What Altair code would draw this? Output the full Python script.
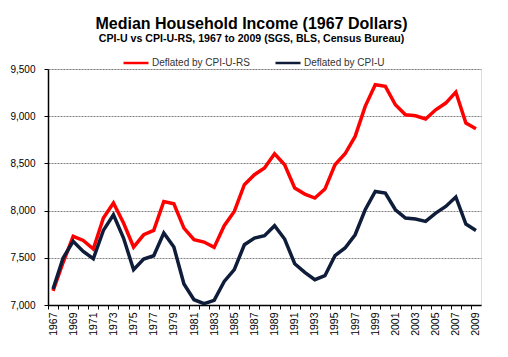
import altair as alt
import pandas as pd

years = list(range(1967, 2010))
cpi_u_rs = [7150, 7450, 7727, 7684, 7593, 7921, 8080, 7868, 7614, 7744, 7790, 8097, 8073, 7815,
            7692, 7667, 7610, 7840, 7991, 8274, 8380, 8451, 8602, 8486, 8239, 8175, 8133, 8228,
            8486, 8602, 8786, 9104, 9333, 9316, 9121, 9015, 9005, 8970, 9068, 9139, 9256, 8927, 8867]
cpi_u = [7170, 7498, 7674, 7568, 7490, 7790, 7956, 7709, 7374, 7487, 7522, 7762, 7614, 7222,
         7056, 7014, 7049, 7250, 7374, 7638, 7709, 7734, 7840, 7699, 7437, 7345, 7268, 7310,
         7522, 7604, 7744, 8009, 8203, 8186, 8009, 7921, 7910, 7885, 7974, 8044, 8144, 7857, 7790]
series_names = ["Deflated by CPI-U-RS", "Deflated by CPI-U"]
series_colors = ["#ff0000", "#0f1d3a"]
y_ticks = [7000, 7500, 8000, 8500, 9000, 9500]

rows = []
for i, name in enumerate(series_names):
    vals = cpi_u_rs if i == 0 else cpi_u
    for yr, v in zip(years, vals):
        rows.append({"year": yr, "value": v, "series": name, "order": i})
df = pd.DataFrame(rows)

FONT = "Liberation Sans"
W, H = 433, 236
step = W / 43.0

chart = alt.Chart(df).mark_line(strokeWidth=3.5, strokeJoin="miter").encode(
    x=alt.X("year:Q",
            scale=alt.Scale(domain=[1966.5, 2009.5], nice=False, zero=False),
            axis=alt.Axis(values=years + [2010], format="d",
                          labelExpr="datum.value % 2 == 1 && datum.value < 2010 ? datum.label : ''",
                          labelAngle=-90, labelOverlap=False, labelFontSize=10.5, labelFont=FONT,
                          labelColor="#000000", labelPadding=3,
                          tickOffset=-step / 2, labelOffset=step / 2,
                          tickSize=4, tickColor="#000000", domainColor="#000000",
                          domainWidth=1.5, grid=False, title=None, labelBound=False, labelFlush=False)),
    y=alt.Y("value:Q",
            scale=alt.Scale(domain=[7000, 9500], nice=False, zero=False),
            axis=alt.Axis(values=y_ticks, format=",.0f", labelFontSize=10, labelFont=FONT,
                          labelColor="#000000", labelPadding=9, tickSize=4, tickColor="#000000",
                          domainColor="#000000", domainWidth=1.5,
                          grid=True, gridColor="#808080", gridDash=[2, 1], gridWidth=1,
                          title=None)),
    color=alt.Color("series:N",
                    scale=alt.Scale(domain=series_names, range=series_colors),
                    legend=alt.Legend(orient="none", legendX=74, legendY=-20, direction="horizontal",
                                      title=None, symbolType="stroke", symbolSize=625,
                                      symbolStrokeWidth=2.5, labelFont=FONT, labelFontSize=10,
                                      labelColor="#333333", labelOffset=2, columnPadding=20,
                                      padding=0)),
    order=alt.Order("order:Q"),
    detail="series:N",
).properties(
    width=W, height=H,
    title=alt.TitleParams(
        text="Median Household Income (1967 Dollars)",
        subtitle="CPI-U vs CPI-U-RS, 1967 to 2009 (SGS, BLS, Census Bureau)",
        anchor="middle", dx=-13, offset=4, font=FONT, fontSize=16, fontWeight="bold",
        subtitleFont=FONT, subtitleFontSize=10.6, subtitleFontWeight="bold",
        subtitleColor="#000000", color="#000000", subtitlePadding=2),
    autosize=alt.AutoSizeParams(type="none"),
    padding={"left": 48, "top": 69, "right": 27, "bottom": 52},
).configure_view(stroke="#808080", strokeDash=[2, 1], strokeWidth=1).configure(background="#ffffff")

chart.save("out.html", embed_options={"renderer": "svg", "actions": False})
